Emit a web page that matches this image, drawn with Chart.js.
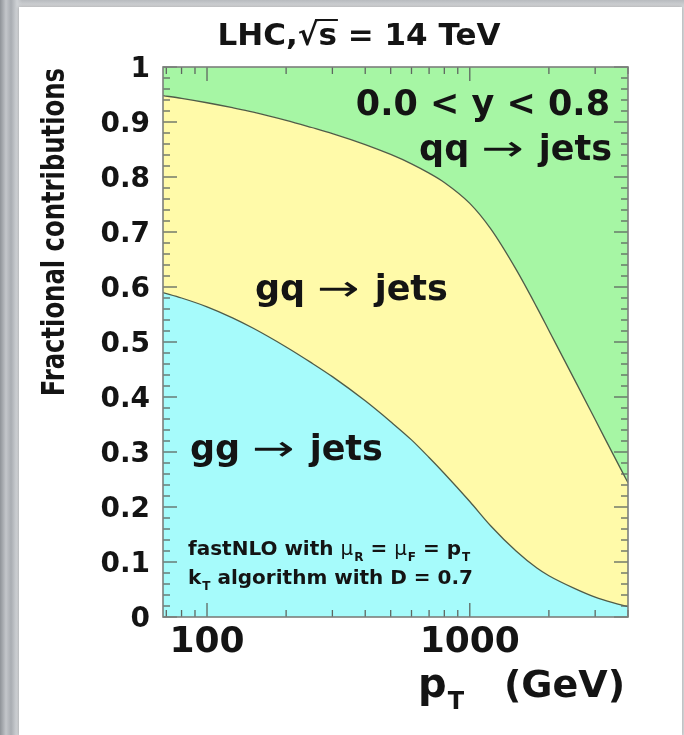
<!DOCTYPE html>
<html lang="en">
<head>
<meta charset="UTF-8">
<title>Fractional contributions to jet production</title>
<script src="https://cdn.jsdelivr.net/npm/chart.js"></script>
<style>
    html, body { margin: 0; padding: 0; }
    body {
        width: 684px; height: 735px; overflow: hidden; position: relative;
        background:
            linear-gradient(90deg, #8f9398 0px, #c3c6ca 6px, #a9adb2 11px, #cfd2d5 17px, rgba(210,212,215,0) 22px),
            linear-gradient(180deg, #b8bbbf 0px, #d6d8da 7px);
    }
    #card { position: absolute; left: 19px; top: 7px; right: 2px; bottom: 0; background: #fff; box-shadow: 0 0 3px rgba(0,0,0,0.25); }
    #fracChart { position: absolute; left: 0; top: 0; }
</style>
</head>
<body>
<div id="card"></div>
<canvas id="fracChart" width="684" height="735"></canvas>
<script>
// pT bins (GeV) and the fraction of the jet cross section from each subprocess
const ptValues = [68, 80, 100, 125, 150, 200, 250, 300, 400, 500, 600, 700, 800, 1000, 1200, 1500, 1800, 2000, 2500, 3000, 3500, 4000];
const ggFrac = [0.590, 0.580, 0.564, 0.544, 0.525, 0.491, 0.462, 0.437, 0.393, 0.355, 0.322, 0.290, 0.261, 0.210, 0.166, 0.120, 0.089, 0.075, 0.052, 0.036, 0.026, 0.019];
const gqFrac = [0.358, 0.363, 0.371, 0.382, 0.393, 0.412, 0.428, 0.442, 0.466, 0.486, 0.502, 0.517, 0.529, 0.542, 0.540, 0.512, 0.474, 0.446, 0.380, 0.323, 0.271, 0.225];
const qqFrac = [0.052, 0.057, 0.065, 0.074, 0.082, 0.097, 0.110, 0.121, 0.141, 0.159, 0.176, 0.193, 0.210, 0.248, 0.294, 0.368, 0.437, 0.479, 0.568, 0.641, 0.703, 0.756];

// axis ticks
const xTickLabels = [100, 1000];
const xMinorTicks = [70, 80, 90, 200, 300, 400, 500, 600, 700, 800, 900, 2000, 3000, 4000];
const yMajorStep = 0.1;
const yMinorStep = 0.02;

const BOLD = '"DejaVu Sans", sans-serif';
const ink = '#141414';

function series(values) {
    return ptValues.map((pt, i) => ({ x: pt, y: values[i] }));
}

// draws a row of text pieces (sub/superscripts, stretched glyphs), returns piece positions
function drawParts(ctx, x, y, parts, align) {
    const widths = parts.map(p => {
        ctx.font = p.font;
        return (p.pad || 0) + ctx.measureText(p.t).width * (p.sx || 1);
    });
    const total = widths.reduce((a, b) => a + b, 0);
    let cx = align === 'right' ? x - total : align === 'center' ? x - total / 2 : x;
    const spots = [];
    parts.forEach((p, i) => {
        const start = cx + (p.pad || 0);
        ctx.save();
        ctx.font = p.font;
        ctx.fillStyle = ink;
        ctx.textAlign = 'left';
        ctx.textBaseline = 'alphabetic';
        ctx.translate(start, y + (p.dy || 0));
        ctx.scale(p.sx || 1, 1);
        ctx.fillText(p.t, 0, 0);
        ctx.restore();
        spots.push({ x0: start, x1: cx + widths[i] });
        cx += widths[i];
    });
    return spots;
}

function jetsLabel(ctx, x, y, proc, align) {
    drawParts(ctx, x, y, [
        { t: proc, font: 'bold 35px ' + BOLD },
        { t: '→', font: '35px ' + BOLD, sx: 1.45, pad: 12 },
        { t: 'jets', font: 'bold 35px ' + BOLD, pad: 15 }
    ], align);
}

// frame, inward ticks and all the annotation text
const decorations = {
    id: 'decorations',
    afterDraw(chart) {
        const { ctx, chartArea, scales } = chart;
        const { left, right, top, bottom } = chartArea;

        ctx.save();
        ctx.strokeStyle = '#5e6660';
        ctx.lineWidth = 1.3;
        const seg = (x1, y1, x2, y2) => { ctx.beginPath(); ctx.moveTo(x1, y1); ctx.lineTo(x2, y2); ctx.stroke(); };

        const xTick = (v, len) => {
            const px = scales.x.getPixelForValue(v);
            seg(px, bottom, px, bottom - len);
            seg(px, top, px, top + len);
        };
        xMinorTicks.forEach(v => xTick(v, 7));
        xTickLabels.forEach(v => xTick(v, 14));

        const nY = Math.round(1 / yMinorStep);
        const perMajor = Math.round(yMajorStep / yMinorStep);
        for (let k = 0; k <= nY; k++) {
            const py = scales.y.getPixelForValue(k * yMinorStep);
            const len = k % perMajor === 0 ? 14 : 7;
            seg(left, py, left + len, py);
            seg(right, py, right - len, py);
        }

        ctx.strokeStyle = '#7c7f7c';
        ctx.lineWidth = 1.6;
        ctx.strokeRect(left, top, right - left, bottom - top);
        ctx.restore();

        // title with the square root bar over s
        const tf = 'bold 31px ' + BOLD;
        const spots = drawParts(ctx, 359, 45, [
            { t: 'LHC,', font: tf },
            { t: '√', font: tf },
            { t: 's', font: tf },
            { t: ' = 14 TeV', font: tf }
        ], 'center');
        ctx.save();
        ctx.strokeStyle = ink;
        ctx.lineWidth = 2;
        seg(spots[1].x1 - 3, 20, spots[2].x1 + 1, 20);
        ctx.restore();

        // y axis title
        ctx.save();
        ctx.translate(64, 68);
        ctx.scale(1.35, 1);
        ctx.rotate(-Math.PI / 2);
        ctx.font = 'bold 24.3px ' + BOLD;
        ctx.fillStyle = ink;
        ctx.textAlign = 'right';
        ctx.fillText('Fractional contributions', 0, 0);
        ctx.restore();

        // x axis title
        drawParts(ctx, 418, 697, [
            { t: 'p', font: 'bold 40px ' + BOLD },
            { t: 'T', font: 'bold 24px ' + BOLD, dy: 12, pad: 1 }
        ], 'left');
        drawParts(ctx, 625, 697, [{ t: '(GeV)', font: 'bold 38px ' + BOLD }], 'right');

        // region labels
        drawParts(ctx, 610, 115, [{ t: '0.0 < y < 0.8', font: 'bold 35px ' + BOLD }], 'right');
        jetsLabel(ctx, 612, 160, 'qq', 'right');
        jetsLabel(ctx, 255, 300, 'gq', 'left');
        jetsLabel(ctx, 190, 460, 'gg', 'left');

        // calculation details
        const sf = 'bold 20px ' + BOLD;
        const gf = '20px ' + BOLD;
        const sub = 'bold 12px ' + BOLD;
        drawParts(ctx, 188, 555, [
            { t: 'fastNLO with ', font: sf },
            { t: 'μ', font: gf },
            { t: 'R', font: sub, dy: 6, pad: 1 },
            { t: ' = ', font: sf },
            { t: 'μ', font: gf },
            { t: 'F', font: sub, dy: 6, pad: 1 },
            { t: ' = p', font: sf },
            { t: 'T', font: sub, dy: 6, pad: 1 }
        ], 'left');
        drawParts(ctx, 188, 584, [
            { t: 'k', font: sf },
            { t: 'T', font: sub, dy: 6, pad: 1 },
            { t: ' algorithm with D = 0.7', font: sf }
        ], 'left');
    }
};

const edgeColor = '#4f5c48';

const ctx = document.getElementById('fracChart').getContext('2d');
new Chart(ctx, {
    type: 'line',
    data: {
        datasets: [{
            label: 'gg → jets',
            data: series(ggFrac),
            fill: 'origin',
            backgroundColor: '#a6fbfb',
            borderColor: edgeColor,
            borderWidth: 1.3
        }, {
            label: 'gq → jets',
            data: series(gqFrac),
            fill: '-1',
            backgroundColor: '#fffaa9',
            borderColor: edgeColor,
            borderWidth: 1.3
        }, {
            label: 'qq → jets',
            data: series(qqFrac),
            fill: '-1',
            backgroundColor: '#a6f6a4',
            borderColor: 'rgba(0,0,0,0)',
            borderWidth: 0
        }]
    },
    options: {
        responsive: false,
        animation: false,
        devicePixelRatio: 1,
        layout: { padding: { top: 67, right: 56, left: 0, bottom: 0 } },
        elements: {
            point: { radius: 0, hoverRadius: 0 },
            line: { cubicInterpolationMode: 'monotone' }
        },
        plugins: {
            legend: { display: false },
            tooltip: { enabled: false }
        },
        scales: {
            x: {
                type: 'logarithmic',
                min: 68,
                max: 4000,
                grid: { display: false, drawTicks: false },
                border: { display: false },
                afterBuildTicks(scale) {
                    scale.ticks = xTickLabels.map(v => ({ value: v }));
                },
                ticks: {
                    autoSkip: false,
                    maxRotation: 0,
                    padding: 4,
                    color: ink,
                    font: { family: BOLD, weight: 'bold', size: 36 },
                    callback: v => String(v)
                },
                afterFit(scale) { scale.height = 118; }
            },
            y: {
                stacked: true,
                min: 0,
                max: 1,
                grid: { display: false, drawTicks: false },
                border: { display: false },
                ticks: {
                    stepSize: yMajorStep,
                    padding: 13,
                    labelOffset: 3,
                    color: ink,
                    font: { family: BOLD, weight: 'bold', size: 28 },
                    callback: v => String(+v.toFixed(2))
                },
                afterFit(scale) { scale.width = 163; }
            }
        }
    },
    plugins: [decorations]
});
</script>
</body>
</html>
